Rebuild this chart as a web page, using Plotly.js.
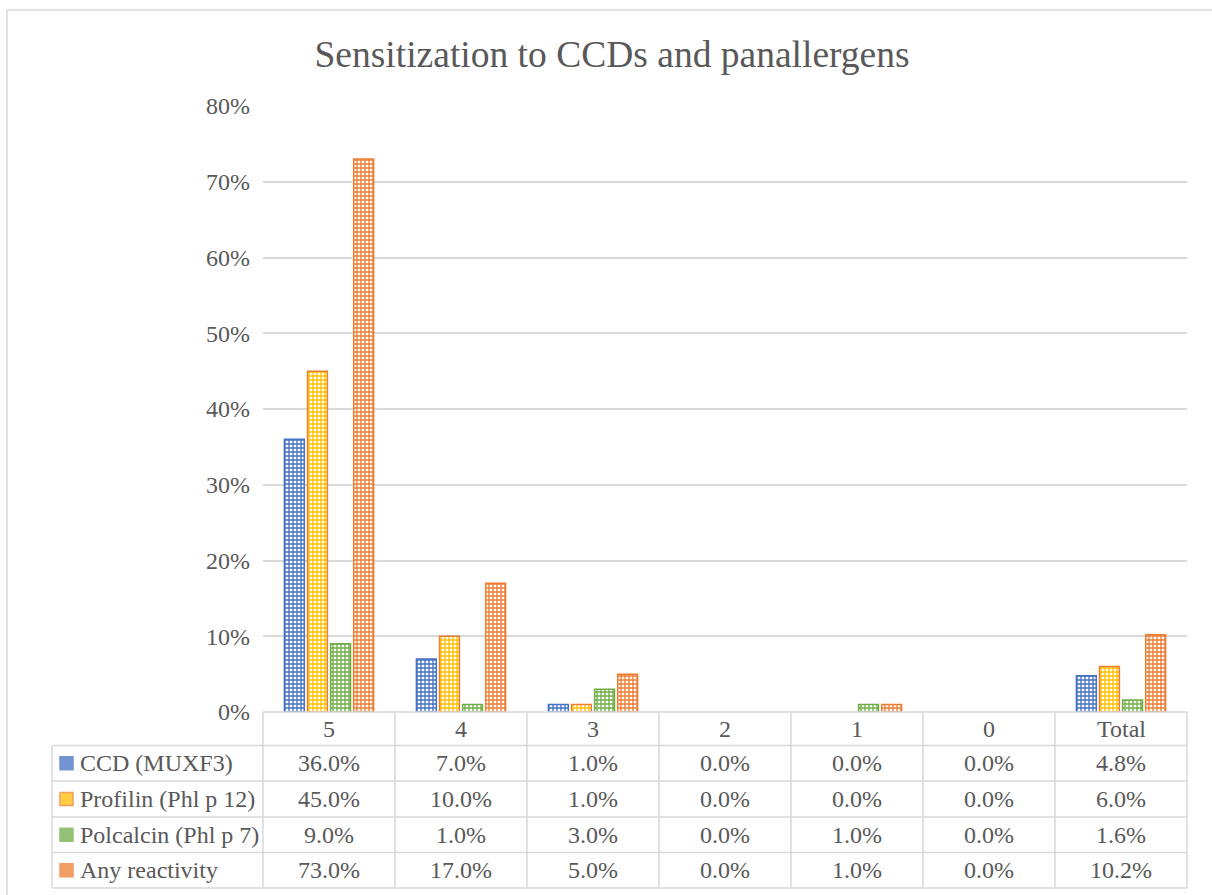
<!DOCTYPE html>
<html>
<head>
<meta charset="utf-8">
<script src="https://cdn.plot.ly/plotly-3.0.1.min.js"></script>
</head>
<body style="margin:0;background:#fff">
<div id="chart" style="width:1212px;height:895px"></div>
<script>
// ---- data ----
const categories = ['5', '4', '3', '2', '1', '0', 'Total'];
const seriesNames = ['CCD (MUXF3)', 'Profilin (Phl p 12)', 'Polcalcin (Phl p 7)', 'Any reactivity'];
const ccd       = [0.36, 0.07, 0.01, 0.00, 0.00, 0.00, 0.048];
const profilin  = [0.45, 0.10, 0.01, 0.00, 0.00, 0.00, 0.060];
const polcalcin = [0.09, 0.01, 0.03, 0.00, 0.01, 0.00, 0.016];
const anyReact  = [0.73, 0.17, 0.05, 0.00, 0.01, 0.00, 0.102];
const seriesValues = [ccd, profilin, polcalcin, anyReact];
const yTickVals = [0, 0.1, 0.2, 0.3, 0.4, 0.5, 0.6, 0.7, 0.8];

// ---- styles ----
const W = 1212, H = 895;
const M = {l: 263, r: 25, t: 106, b: 183};
const PW = W - M.l - M.r, PH = H - M.t - M.b;
const fgColors = ['#4472C4', '#FFC000', '#70AD47', '#ED7D31'];
const lineColors = ['#4472C4', '#ED7D31', '#70AD47', '#ED7D31'];
const FAM = '"Liberation Serif", "Times New Roman", serif';
const TXT = '#595959';
const GRID = '#d9d9d9';

const px = x => (x - M.l) / PW;       // pixel -> paper x
const py = y => (H - M.b - y) / PH;   // pixel -> paper y

const traces = seriesValues.map((vals, i) => ({
  type: 'bar',
  name: seriesNames[i],
  x: categories,
  // zero-height bars are not drawn in the reference
  y: vals.map(v => (v === 0 ? null : v)),
  marker: {
    color: '#ffffff',
    line: {color: lineColors[i], width: 1.5},
    pattern: {shape: '+', fgcolor: fgColors[i], bgcolor: '#ffffff', size: 4, solidity: 0.55, fillmode: 'replace'}
  },
  hoverinfo: 'x+y+name'
}));

const shapes = [];
const annotations = [];
const L = (x0, y0, x1, y1) => shapes.push({type: 'line', xref: 'paper', yref: 'paper',
  x0: px(x0), y0: py(y0), x1: px(x1), y1: py(y1), line: {color: GRID, width: 1.5}, layer: 'above'});

// table geometry (pixels)
const tLeft = 52, tRight = 1187, headTop = 712;
const rowLines = [745.5, 781, 817, 852.5, 888];
const colW = (tRight - M.l) / categories.length;

// outer chart border
shapes.push({type: 'rect', xref: 'paper', yref: 'paper', x0: px(7), y0: py(10), x1: px(1230), y1: py(910),
  line: {color: GRID, width: 1.5}, fillcolor: 'rgba(0,0,0,0)', layer: 'below'});

// horizontal lines
L(M.l, headTop, tRight, headTop);
rowLines.forEach(y => L(tLeft, y, tRight, y));
// vertical lines
L(tLeft, rowLines[0], tLeft, rowLines[4]);
for (let c = 0; c <= categories.length; c++) {
  const x = M.l + c * colW;
  L(x, headTop, x, rowLines[4]);
}

// header labels
categories.forEach((c, j) => {
  annotations.push({xref: 'paper', yref: 'paper', x: px(M.l + (j + 0.5) * colW), y: py((headTop + rowLines[0]) / 2),
    text: c, showarrow: false, xanchor: 'center', yanchor: 'middle', font: {family: FAM, size: 24, color: TXT}});
});

// rows
seriesValues.forEach((vals, i) => {
  const yTop = rowLines[i], yBot = rowLines[i + 1], yc = (yTop + yBot) / 2;
  // legend key
  shapes.push({type: 'rect', xref: 'paper', yref: 'paper', x0: px(60), x1: px(73), y0: py(yc - 6.5), y1: py(yc + 6.5),
    fillcolor: fgColors[i], opacity: 0.75, line: {color: lineColors[i], width: 1.5}, layer: 'above'});
  annotations.push({xref: 'paper', yref: 'paper', x: px(78), y: py(yc), text: seriesNames[i], showarrow: false,
    xanchor: 'left', yanchor: 'middle', font: {family: FAM, size: 24, color: TXT}});
  vals.forEach((v, j) => {
    annotations.push({xref: 'paper', yref: 'paper', x: px(M.l + (j + 0.5) * colW), y: py(yc),
      text: (v * 100).toFixed(1) + '%', showarrow: false, xanchor: 'center', yanchor: 'middle',
      font: {family: FAM, size: 24, color: TXT}});
  });
});

const layout = {
  width: W, height: H,
  margin: M,
  font: {family: FAM, color: TXT},
  paper_bgcolor: '#ffffff', plot_bgcolor: '#ffffff',
  showlegend: false,
  title: {text: 'Sensitization to CCDs and panallergens', x: 0.505, xanchor: 'center', y: 1 - 54 / H, yanchor: 'middle',
    yref: 'container', font: {family: FAM, size: 37.5, color: TXT}},
  barmode: 'group', bargap: 0.3, bargroupgap: 0.14,
  xaxis: {type: 'category', showticklabels: false, showgrid: false, zeroline: false, showline: false, ticks: '', fixedrange: true},
  yaxis: {range: [0, 0.8], tickvals: yTickVals, tickformat: '.0%', showgrid: true, gridcolor: GRID, gridwidth: 1.5,
    zeroline: false, showline: false, ticks: '', ticklabelstandoff: 12,
    tickfont: {family: FAM, size: 24, color: TXT}, fixedrange: true},
  shapes: shapes,
  annotations: annotations
};

Plotly.newPlot('chart', traces, layout, {displayModeBar: false});
</script>
</body>
</html>
